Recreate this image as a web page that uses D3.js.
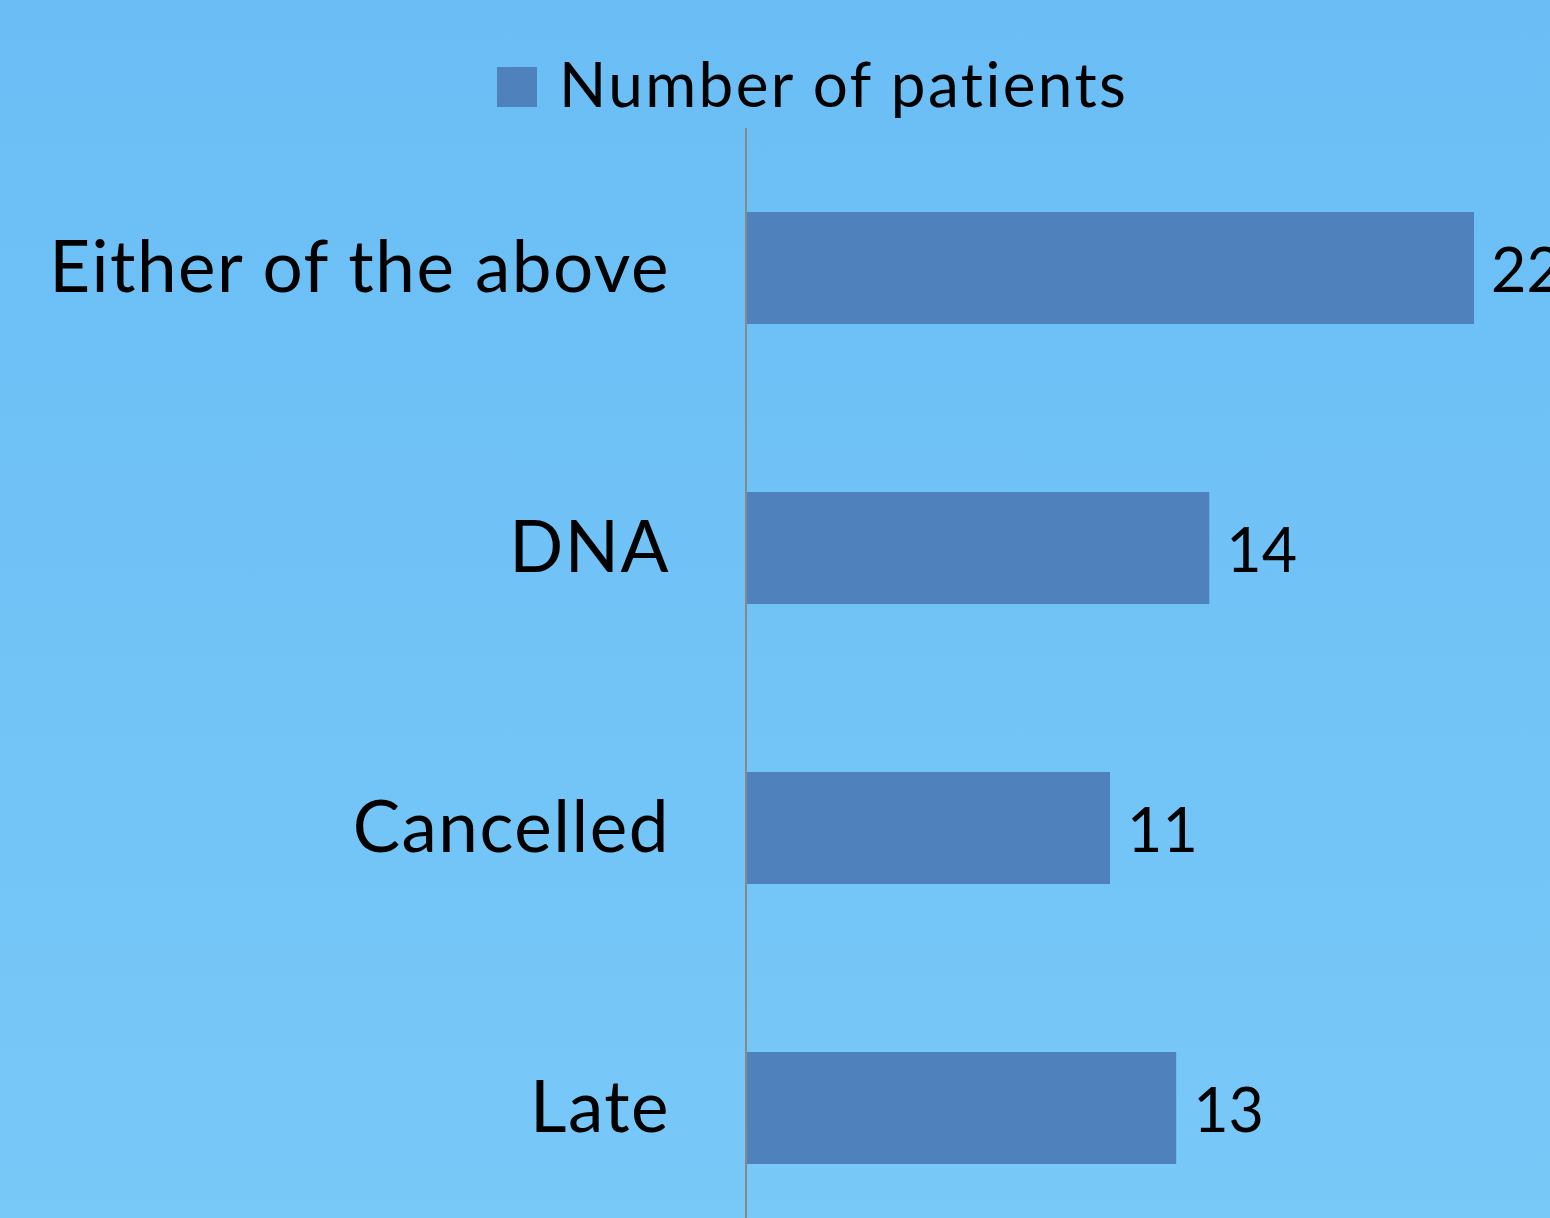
<!DOCTYPE html>
<html lang="en">
<head>
  <meta charset="UTF-8">
  <title>Number of patients</title>
  <script src="https://d3js.org/d3.v7.min.js"></script>
  <style>
    html, body {
      margin: 0;
      padding: 0;
      overflow: hidden;
    }
    svg {
      display: block;
      font-family: Lato, "Open Sans", sans-serif;
    }
  </style>
</head>
<body>
<svg id="chart" width="1550" height="1218"></svg>

<script>
  // data
  const categories = ["Either of the above", "DNA", "Cancelled", "Late"];
  const values = [22, 14, 11, 13];
  const seriesName = "Number of patients";

  const width = 1550, height = 1218;
  const svg = d3.select("#chart");

  const defs = svg.append("defs");
  const grad = defs.append("linearGradient")
          .attr("id", "bg")
          .attr("x1", 0).attr("y1", 0)
          .attr("x2", 0).attr("y2", 1);
  grad.append("stop").attr("offset", "0%").attr("stop-color", "#6abef5");
  grad.append("stop").attr("offset", "100%").attr("stop-color", "#78c8f8");

  svg.append("rect")
          .attr("width", width)
          .attr("height", height)
          .attr("fill", "url(#bg)");

  const x0 = 746;
  const x = d3.scaleLinear()
          .domain([0, 22])
          .range([x0, 1474]);

  const y = d3.scaleBand()
          .domain(categories)
          .range([128, 1248])
          .paddingInner(0.6)
          .paddingOuter(0.3);

  // bars
  svg.append("g")
          .selectAll("rect")
          .data(values)
          .join("rect")
          .attr("x", x(0))
          .attr("y", (d, i) => y(categories[i]))
          .attr("width", d => x(d) - x(0))
          .attr("height", y.bandwidth())
          .attr("fill", "#4f81bd");

  // axis line
  svg.append("line")
          .attr("x1", x0).attr("x2", x0)
          .attr("y1", 128).attr("y2", height)
          .attr("stroke", "#888888")
          .attr("stroke-width", 2);

  // category labels
  svg.append("g")
          .selectAll("text")
          .data(categories)
          .join("text")
          .attr("x", 670)
          .attr("y", d => y(d) + y.bandwidth() / 2 + 24)
          .attr("text-anchor", "end")
          .attr("font-size", 71)
          .attr("letter-spacing", 1.5)
          .attr("fill", "#000")
          .text(d => d);

  // value labels
  svg.append("g")
          .selectAll("text")
          .data(values)
          .join("text")
          .attr("x", d => x(d) + 17)
          .attr("y", (d, i) => y(categories[i]) + y.bandwidth() / 2 + 24)
          .attr("font-size", 61)
          .attr("fill", "#000")
          .text(d => d);

  // legend
  const legend = svg.append("g");
  legend.append("rect")
          .attr("x", 497).attr("y", 67)
          .attr("width", 40).attr("height", 40)
          .attr("fill", "#4f81bd");
  legend.append("text")
          .attr("x", 559).attr("y", 107)
          .attr("font-size", 62)
          .attr("letter-spacing", 2.4)
          .attr("fill", "#000")
          .text(seriesName);
</script>
</body>
</html>
